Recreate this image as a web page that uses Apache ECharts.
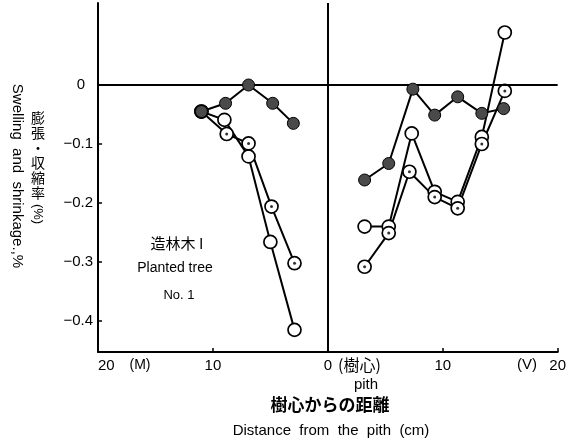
<!DOCTYPE html>
<html>
<head>
<meta charset="utf-8">
<script src="https://cdn.jsdelivr.net/npm/echarts@6/dist/echarts.min.js"></script>
<style>
html,body{margin:0;padding:0;background:#fff;}
#chart{width:569px;height:446px;}
</style>
</head>
<body>
<div id="chart"></div>
<script>
// ---- data (x: distance from pith in cm; negative = M side, positive = V side) ----
var xLeftDark  = [-11.0, -8.9, -6.9, -4.8, -3.0];
var yLeftDark  = [-0.045, -0.031, 0.0, -0.031, -0.065];
var xLeftPlain = [-11.0, -9.0, -6.9, -5.0, -2.9];
var yLeftPlain = [-0.045, -0.059, -0.121, -0.266, -0.415];
var xLeftDot   = [-11.0, -8.8, -6.9, -4.9, -2.9];
var yLeftDot   = [-0.045, -0.083, -0.099, -0.206, -0.302];

var xRightDark  = [3.2, 5.3, 7.4, 9.3, 11.3, 13.4, 15.3];
var yRightDark  = [-0.161, -0.133, -0.007, -0.051, -0.020, -0.048, -0.040];
var xRightPlain = [3.2, 5.3, 7.3, 9.3, 11.3, 13.4, 15.4];
var yRightPlain = [-0.240, -0.240, -0.082, -0.181, -0.198, -0.088, 0.089];
var xRightDot   = [3.2, 5.3, 7.1, 9.3, 11.3, 13.4, 15.4];
var yRightDot   = [-0.308, -0.251, -0.147, -0.190, -0.209, -0.100, -0.010];

var xTickValues = [-20, -10, 0, 10, 20];
var xTickLabels = ['20', '10', '0', '10', '20'];
var yTickValues = [0, -0.1, -0.2, -0.3, -0.4];
var yTickLabels = ['0', '\u22120.1', '\u22120.2', '\u22120.3', '\u22120.4'];

function pairs(xs, ys) { return xs.map(function (x, i) { return [x, ys[i]]; }); }

var FONT = 'Liberation Sans, Arial, sans-serif';
var CJK = 'Noto Sans CJK JP, sans-serif';

function lineSeries(xs, ys, kind) {
  var s = {
    type: 'line',
    data: pairs(xs, ys),
    symbol: 'circle',
    showAllSymbol: true,
    lineStyle: { color: '#000', width: 2 },
    silent: true,
    animation: false
  };
  if (kind === 'dark') {
    s.symbolSize = 12;
    s.itemStyle = { color: '#4a4a4a', borderColor: '#000', borderWidth: 1 };
    s.z = 5;
  } else {
    s.symbolSize = 13;
    s.itemStyle = { color: '#fff', borderColor: '#000', borderWidth: 1.7 };
    s.z = 3;
  }
  return s;
}
function dotSeries(xs, ys) {
  return {
    type: 'scatter', data: pairs(xs, ys), symbol: 'circle', symbolSize: 3,
    itemStyle: { color: '#000' }, z: 4, silent: true, animation: false
  };
}

var chart = echarts.init(document.getElementById('chart'), null, { renderer: 'canvas' });
var option = {
  backgroundColor: '#fff',
  animation: false,
  grid: { left: 98, right: 11, top: 3, bottom: 94 },
  xAxis: {
    type: 'value', min: -20, max: 20, interval: 10,
    axisLine: { show: true, onZero: false, lineStyle: { color: '#000', width: 2 } },
    axisTick: { show: true, inside: true, length: 4, lineStyle: { color: '#000', width: 1.5 } },
    splitLine: { show: false },
    axisLabel: {
      customValues: xTickValues,
      formatter: function (v) { var i = xTickValues.indexOf(v); return i >= 0 ? xTickLabels[i] : ''; },
      color: '#000', fontSize: 15, fontFamily: FONT, margin: 6,
      alignMinLabel: 'left'
    }
  },
  yAxis: {
    type: 'value', min: -0.4525, max: 0.139,
    axisLine: { show: true, onZero: false, lineStyle: { color: '#000', width: 2 } },
    axisTick: { show: true, inside: true, length: 4, customValues: [-0.1, -0.2, -0.3, -0.4], lineStyle: { color: '#000', width: 1.5 } },
    splitLine: { show: false },
    axisLabel: {
      customValues: yTickValues,
      formatter: function (v) {
        var i = -1;
        for (var k = 0; k < yTickValues.length; k++) if (Math.abs(yTickValues[k] - v) < 1e-6) i = k;
        if (i < 0) return '';
        return i === 0 ? '{z|' + yTickLabels[i] + '}' : yTickLabels[i];
      },
      rich: { z: { padding: [0, 8, 0, 0], fontSize: 15, fontFamily: FONT, color: '#000' } },
      color: '#000', fontSize: 15, fontFamily: FONT, margin: 5
    }
  },
  series: [
    {
      type: 'line', data: [], silent: true,
      markLine: {
        silent: true, symbol: 'none', animation: false,
        label: { show: false },
        lineStyle: { color: '#000', width: 2, type: 'solid' },
        data: [{ yAxis: 0 }, { xAxis: 0 }]
      }
    },
    lineSeries(xLeftPlain, yLeftPlain, 'open'),
    lineSeries(xLeftDot, yLeftDot, 'open'),
    dotSeries(xLeftDot.slice(1), yLeftDot.slice(1)),
    lineSeries(xLeftDark, yLeftDark, 'dark'),
    lineSeries(xRightPlain, yRightPlain, 'open'),
    lineSeries(xRightDot, yRightDot, 'open'),
    dotSeries(xRightDot, yRightDot),
    lineSeries(xRightDark, yRightDark, 'dark')
  ],
  graphic: [
    { type: 'text', x: 17, y: 176, rotation: -Math.PI / 2,
      style: { text: 'Swelling  and  shrinkage.,%', font: '15px ' + FONT, fill: '#000', textAlign: 'center', textVerticalAlign: 'middle' } },
    { type: 'text', x: 38, y: 110,
      style: { text: '膨\n張\n・\n収\n縮\n率', font: '14px ' + CJK, lineHeight: 15, fill: '#000', textAlign: 'center', textVerticalAlign: 'top' } },
    { type: 'text', x: 38, y: 214, rotation: -Math.PI / 2,
      style: { text: '(%)', font: '13px ' + FONT, fill: '#000', textAlign: 'center', textVerticalAlign: 'middle' } },
    { type: 'text', x: 177, y: 243,
      style: { text: '造林木 I', font: '15px ' + CJK, fill: '#000', textAlign: 'center', textVerticalAlign: 'middle' } },
    { type: 'text', x: 175, y: 268,
      style: { text: 'Planted tree', font: '14px ' + FONT, fill: '#000', textAlign: 'center', textVerticalAlign: 'middle' } },
    { type: 'text', x: 179, y: 295,
      style: { text: 'No. 1', font: '13px ' + FONT, fill: '#000', textAlign: 'center', textVerticalAlign: 'middle' } },
    { type: 'text', x: 140, y: 365,
      style: { text: '(M)', font: '14px ' + FONT, fill: '#000', textAlign: 'center', textVerticalAlign: 'middle' } },
    { type: 'text', x: 338, y: 365,
      style: { text: '(樹心)', font: '16px ' + CJK, fill: '#000', textAlign: 'left', textVerticalAlign: 'middle' } },
    { type: 'text', x: 527, y: 365,
      style: { text: '(V)', font: '15px ' + FONT, fill: '#000', textAlign: 'center', textVerticalAlign: 'middle' } },
    { type: 'text', x: 366, y: 385,
      style: { text: 'pith', font: '15px ' + FONT, fill: '#000', textAlign: 'center', textVerticalAlign: 'middle' } },
    { type: 'text', x: 330, y: 405,
      style: { text: '樹心からの距離', font: 'bold 17px ' + CJK, fill: '#000', textAlign: 'center', textVerticalAlign: 'middle' } },
    { type: 'text', x: 331, y: 431,
      style: { text: 'Distance  from  the  pith  (cm)', font: '15px ' + FONT, fill: '#000', textAlign: 'center', textVerticalAlign: 'middle' } }
  ]
};
chart.setOption(option);
</script>
</body>
</html>
